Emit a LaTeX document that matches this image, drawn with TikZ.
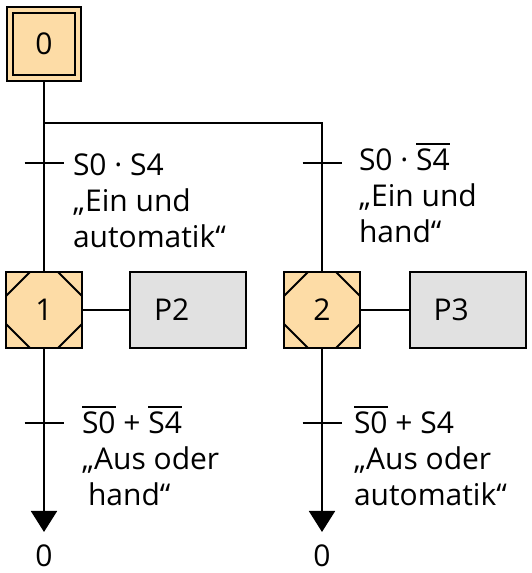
\documentclass[tikz,border=0pt]{standalone}
\usepackage{fontspec}
\setmainfont{Open Sans}
\usetikzlibrary{arrows.meta,positioning}

\definecolor{stepfill}{RGB}{253,220,166}
\definecolor{actfill}{RGB}{225,225,225}

\newcommand{\ovl}[1]{\vbox{\hrule height 1.8pt\kern 4pt\hbox{#1}}}

\tikzset{
  initbox/.style={draw,fill=stepfill,double=stepfill,double distance=3.3pt,line width=2.7pt,
    minimum size=68pt,inner sep=0pt,outer sep=4.3pt},
  stepbox/.style={draw,fill=stepfill,line width=2pt,minimum size=76pt,inner sep=0pt,
    path picture={
      \draw[line width=2pt] ([xshift=24pt]path picture bounding box.north west) -- ([yshift=-24pt]path picture bounding box.north west);
      \draw[line width=2pt] ([xshift=-24pt]path picture bounding box.north east) -- ([yshift=-24pt]path picture bounding box.north east);
      \draw[line width=2pt] ([xshift=24pt]path picture bounding box.south west) -- ([yshift=24pt]path picture bounding box.south west);
      \draw[line width=2pt] ([xshift=-24pt]path picture bounding box.south east) -- ([yshift=24pt]path picture bounding box.south east);
    }},
  actbox/.style={draw,fill=actfill,line width=2pt,minimum height=76pt,inner xsep=24pt,
    text width=68pt,align=left},
  trans/.style={minimum width=37pt,minimum height=0pt,inner sep=0pt},
  cond/.style={anchor=north west,inner sep=0pt,align=left},
  ret/.style={inner sep=0pt,outer sep=13pt},
  flow/.style={-{Triangle[width=26pt,length=21pt]}}
}

\begin{document}
\begin{tikzpicture}[x=1pt,y=1pt,line width=2pt,font=\fontsize{30}{36}\selectfont]
\useasboundingbox (0,0) rectangle (531,573);

  % steps and actions
  \node[initbox] (s0) at (44,529) {0};
  \node[stepbox] (s1) at (44,263) {1};
  \node[stepbox] (s2) at (322,263) {2};
  \node[actbox] (a1) at (188,263) {P2};
  \node[actbox] (a2) at (467.5,263) {P3};

  % transitions
  \node[trans] (t1) at (44,410) {};
  \node[trans] (t2) at (322,410) {};
  \node[trans] (t3) at (44,150) {};
  \node[trans] (t4) at (322,150) {};
  \coordinate (split) at (44,450);

  \node[ret] (r1) at (44,17) {0};
  \node[ret] (r2) at (322,17) {0};

  \draw (s0) -- (s1);
  \draw (split) -| (s2);
  \draw (s1) -- (a1);
  \draw (s2) -- (a2);
  \draw[flow] (s1) -- (r1);
  \draw[flow] (s2) -- (r2);

  \foreach \t in {t1,t2,t3,t4}{
    \draw (\t.west) -- (\t.east);
  }

  % conditions
  \node[cond] (c1) at (72,420) {S0 · S4\\„Ein und\\automatik“};
  \node[cond] (c2) at (358,431) {S0 · \ovl{S4}\\„Ein und\\hand“};
  \node[cond] (c3) at (81,168) {\ovl{S0} + \ovl{S4}\\„Aus oder\\\hspace*{6pt}hand“};
  \node[cond] (c4) at (353,168) {\ovl{S0} + S4\\„Aus oder\\automatik“};

\end{tikzpicture}
\end{document}
